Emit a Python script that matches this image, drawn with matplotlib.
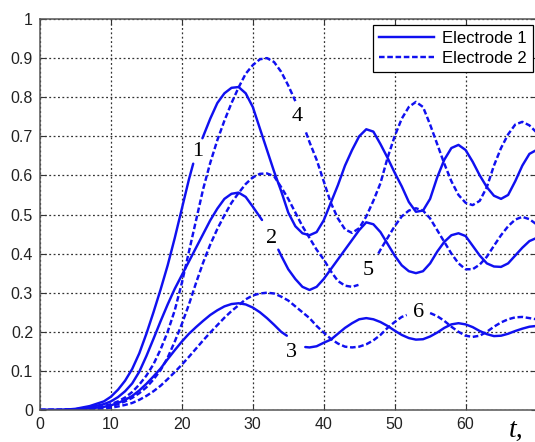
import numpy as np
import matplotlib
matplotlib.use("Agg")
import matplotlib.pyplot as plt
from matplotlib.lines import Line2D

nan = np.nan

# ---- data ----
t1 = [0, 3, 5, 7, 9, 10, 11, 12, 13, 14, 15, 16, 17, 18, 19, 20, 21, 21.6, nan,
      22.9, 24, 25, 26, 27, 28, 29, 30, 31, 32, 33, 34, 35, 36, 37, 38, 39, 40, 41, 42, 43, 44, 45,
      46, 47, 48, 49, 50, 51, 52, 53, 54, 55, 56, 57, 58, 59, 60, 61, 62, 63, 64, 65, 66, 67, 68, 69, 70]
c1 = [0, 0, 0.003, 0.01, 0.022, 0.034, 0.052, 0.075, 0.105, 0.145, 0.195, 0.25, 0.308, 0.37, 0.44, 0.515, 0.59, 0.63, nan,
      0.695, 0.745, 0.785, 0.81, 0.824, 0.826, 0.81, 0.775, 0.72, 0.665, 0.61, 0.56, 0.505, 0.47, 0.452, 0.447, 0.455,
      0.485, 0.53, 0.575, 0.625, 0.665, 0.70, 0.718, 0.712, 0.68, 0.645, 0.607, 0.572, 0.532, 0.507, 0.51, 0.54,
      0.595, 0.64, 0.67, 0.678, 0.665, 0.635, 0.60, 0.57, 0.548, 0.54, 0.55, 0.585, 0.625, 0.655, 0.665]

t2 = [0, 3, 5, 7, 9, 10, 11, 12, 13, 14, 15, 16, 17, 18, 19, 20, 21, 22, 23, 24, 25, 26, 27, 28, 29, 30, 31.3, nan,
      33.6, 34, 35, 36, 37, 38, 39, 40, 41, 42, 43, 44, 45, 46, 47, 48, 49, 50, 51, 52, 53, 54, 55, 56, 57, 58,
      59, 60, 61, 62, 63, 64, 65, 66, 67, 68, 69, 70]
c2 = [0, 0, 0.002, 0.007, 0.015, 0.022, 0.033, 0.048, 0.068, 0.098, 0.138, 0.182, 0.227, 0.27, 0.31, 0.345, 0.38, 0.415,
      0.45, 0.485, 0.515, 0.54, 0.553, 0.556, 0.545, 0.52, 0.486, nan,
      0.41, 0.395, 0.36, 0.335, 0.315, 0.307, 0.315, 0.335, 0.36, 0.385, 0.41, 0.435, 0.46, 0.48, 0.475, 0.455,
      0.425, 0.395, 0.37, 0.355, 0.35, 0.355, 0.375, 0.405, 0.43, 0.447, 0.452, 0.445, 0.42, 0.395, 0.375, 0.367,
      0.366, 0.375, 0.395, 0.415, 0.432, 0.44]

t3 = [0, 3, 5, 7, 9, 10, 11, 12, 13, 14, 15, 16, 17, 18, 19, 20, 21, 22, 23, 24, 25, 26, 27, 28, 29, 30, 31, 32,
      33, 34, 34.8, nan, 37.4, 38, 39, 40, 41, 42, 43, 44, 45, 46, 47, 48, 49, 50, 51, 52, 53, 54, 55, 56, 57, 58,
      59, 60, 61, 62, 63, 64, 65, 66, 67, 68, 69, 70]
c3 = [0, 0, 0.001, 0.004, 0.008, 0.012, 0.018, 0.026, 0.036, 0.05, 0.067, 0.086, 0.106, 0.13, 0.153, 0.175, 0.195,
      0.212, 0.228, 0.243, 0.255, 0.265, 0.271, 0.273, 0.27, 0.262, 0.25, 0.235, 0.218, 0.2, 0.19, nan,
      0.161, 0.16, 0.163, 0.172, 0.18, 0.195, 0.21, 0.222, 0.232, 0.235, 0.232, 0.225, 0.215, 0.203, 0.192, 0.184,
      0.18, 0.181, 0.188, 0.198, 0.21, 0.219, 0.222, 0.219, 0.212, 0.202, 0.194, 0.189, 0.19, 0.195, 0.202, 0.208,
      0.213, 0.215]

t4 = [0, 5, 7, 9, 10, 11, 12, 13, 14, 15, 16, 17, 18, 19, 20, 21, 22, 23, 24, 25, 26, 27, 28, 29, 30, 31, 32, 33,
      34, 35, 36, nan, 37.5, 38, 39, 40, 41, 42, 43, 44, 45, 46, 47, 48, 49, 50, 51, 52, 53, 54, 55, 56, 57, 58,
      59, 60, 61, 62, 63, 64, 65, 66, 67, 68, 69, 70]
c4 = [0, 0.001, 0.004, 0.01, 0.015, 0.022, 0.032, 0.046, 0.065, 0.088, 0.117, 0.155, 0.2, 0.255, 0.325, 0.405, 0.485,
      0.565, 0.632, 0.69, 0.74, 0.785, 0.825, 0.86, 0.882, 0.897, 0.90, 0.89, 0.865, 0.83, 0.79, nan,
      0.71, 0.685, 0.64, 0.585, 0.53, 0.49, 0.462, 0.453, 0.465, 0.495, 0.535, 0.58, 0.645, 0.70, 0.745, 0.775,
      0.788, 0.775, 0.73, 0.68, 0.63, 0.585, 0.55, 0.53, 0.524, 0.535, 0.57, 0.625, 0.67, 0.705, 0.73, 0.737,
      0.728, 0.71]

t5 = [0, 5, 7, 9, 10, 11, 12, 13, 14, 15, 16, 17, 18, 19, 20, 21, 22, 23, 24, 25, 26, 27, 28, 29, 30, 31, 32, 33,
      34, 35, 36, 37, 38, 39, 40, 41, 42, 43, 44, 44.9, nan, 47.7, 48, 49, 50, 51, 52, 53, 54, 55, 56, 57, 58,
      59, 60, 61, 62, 63, 64, 65, 66, 67, 68, 69, 70]
c5 = [0, 0.001, 0.003, 0.007, 0.01, 0.015, 0.022, 0.031, 0.043, 0.058, 0.078, 0.102, 0.134, 0.175, 0.22, 0.27, 0.325,
      0.377, 0.423, 0.463, 0.498, 0.53, 0.555, 0.578, 0.595, 0.604, 0.605, 0.598, 0.57, 0.54, 0.505, 0.47, 0.44,
      0.41, 0.385, 0.355, 0.33, 0.318, 0.315, 0.32, nan,
      0.40, 0.41, 0.44, 0.47, 0.495, 0.51, 0.516, 0.51, 0.49, 0.46, 0.43, 0.40, 0.375, 0.36, 0.36, 0.372, 0.392,
      0.42, 0.447, 0.47, 0.487, 0.494, 0.488, 0.475]

t6 = [0, 5, 7, 9, 10, 11, 12, 13, 14, 15, 16, 17, 18, 19, 20, 21, 22, 23, 24, 25, 26, 27, 28, 29, 30, 31, 32, 33,
      34, 35, 36, 37, 38, 39, 40, 41, 42, 43, 44, 45, 46, 47, 48, 49, 50, 51, 51.7, nan, 55, 56, 57, 58, 59, 60,
      61, 62, 63, 64, 65, 66, 67, 68, 69, 70]
c6 = [0, 0, 0.002, 0.004, 0.006, 0.009, 0.013, 0.018, 0.026, 0.036, 0.048, 0.062, 0.079, 0.097, 0.116, 0.136, 0.157,
      0.178, 0.198, 0.217, 0.236, 0.253, 0.268, 0.283, 0.293, 0.298, 0.30, 0.298, 0.29, 0.28, 0.265, 0.25, 0.235,
      0.215, 0.198, 0.182, 0.17, 0.162, 0.16, 0.162, 0.168, 0.178, 0.192, 0.21, 0.225, 0.238, 0.243, nan,
      0.248, 0.24, 0.228, 0.213, 0.2, 0.19, 0.187, 0.19, 0.2, 0.213, 0.224, 0.232, 0.237, 0.238, 0.235, 0.232]

curve_labels = ["1", "2", "3", "4", "5", "6"]
label_x = [22.3, 32.7, 35.5, 36.2, 46.3, 53.4]
label_y = [0.66, 0.439, 0.148, 0.75, 0.356, 0.249]

legend_names = ["Electrode 1", "Electrode 2"]
xticks = [0, 10, 20, 30, 40, 50, 60]
yticks = [0, 0.1, 0.2, 0.3, 0.4, 0.5, 0.6, 0.7, 0.8, 0.9, 1]
ytick_labels = ["0", "0.1", "0.2", "0.3", "0.4", "0.5", "0.6", "0.7", "0.8", "0.9", "1"]

# ---- figure ----
W, H = 535, 442
fig = plt.figure(figsize=(W / 100, H / 100), dpi=100)
ax = fig.add_axes([40 / W, 1 - 410 / H, (536.5 - 40) / W, (410 - 19) / H])

blue = "#1010f0"
lw = 1.75
dash = (2.3, 1.1)
for t, c in [(t1, c1), (t2, c2), (t3, c3)]:
    ax.plot(t, c, color=blue, lw=lw, solid_capstyle="round", solid_joinstyle="round")
for t, c in [(t4, c4), (t5, c5), (t6, c6)]:
    ax.plot(t, c, color=blue, lw=lw, dashes=dash)

for s, x, y in zip(curve_labels, label_x, label_y):
    ax.text(x, y, s, fontsize=16, family="Liberation Serif", ha="center", va="center", color="black")

ax.set_xlim(0, 70)
ax.set_ylim(0, 1)
ax.set_xticks(xticks)
ax.set_yticks(yticks)
ax.set_yticklabels(ytick_labels)
ax.tick_params(direction="in", length=4, width=0.8, colors="#333333", labelsize=11.5,
               top=True, right=True, pad=5)
for lab in ax.get_xticklabels() + ax.get_yticklabels():
    lab.set_family("Liberation Sans")
    lab.set_color("#222222")
ax.grid(True, color="#333333", linestyle=(0, (1.5, 2.0)), linewidth=0.9)
for sp in ax.spines.values():
    sp.set_color("#555555")
    sp.set_linewidth(1.1)

handles = [Line2D([], [], color=blue, lw=lw),
           Line2D([], [], color=blue, lw=lw, dashes=dash)]
leg = ax.legend(handles, legend_names, loc="upper right", bbox_to_anchor=(533 / W, 1 - 25 / H),
                bbox_transform=fig.transFigure, fancybox=False, framealpha=1, edgecolor="black",
                prop={"family": "Liberation Sans", "size": 12}, handlelength=3.3, borderpad=0.35,
                labelspacing=0.3, handletextpad=0.5, borderaxespad=0)
leg.get_frame().set_linewidth(0.9)

fig.text(516 / W, 1 - 430 / H, "t,", fontsize=20, family="Liberation Serif", style="italic",
         ha="center", va="center")

fig.savefig("out.png", dpi=100)
